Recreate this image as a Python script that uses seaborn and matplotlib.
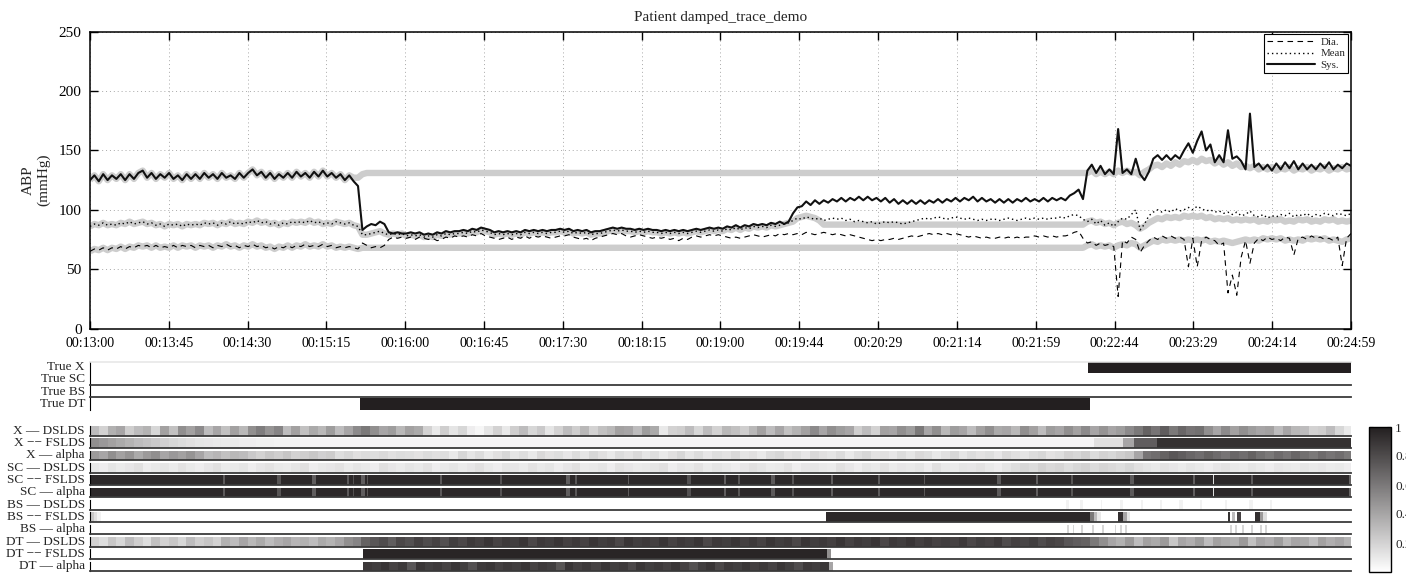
import numpy as np
import matplotlib
matplotlib.use("Agg")
import matplotlib.pyplot as plt
from matplotlib.colors import LinearSegmentedColormap
from matplotlib.lines import Line2D
import seaborn as sns

# ------------------------------------------------------------------
# Time base: seconds after 00:13:00
# ------------------------------------------------------------------
T_END = 719
tick_labels = ["00:13:00", "00:13:45", "00:14:30", "00:15:15", "00:16:00",
               "00:16:45", "00:17:30", "00:18:15", "00:19:00", "00:19:44",
               "00:20:29", "00:21:14", "00:21:59", "00:22:44", "00:23:29",
               "00:24:14", "00:24:59"]
ytick_values = [0, 50, 100, 150, 200, 250]

# ------------------------------------------------------------------
# Observed ABP (mmHg), one sample every ~2.5 s
# ------------------------------------------------------------------
sys_abp = [
    125, 129, 124, 130, 125, 129, 126, 130, 125, 130, 126, 131,
    133, 127, 131, 126, 130, 127, 131, 126, 129, 125, 130, 126,
    130, 126, 131, 127, 130, 126, 131, 127, 129, 126, 131, 127,
    131, 134, 129, 132, 127, 131, 126, 130, 127, 131, 127, 132,
    128, 131, 127, 132, 128, 133, 128, 131, 127, 130,
    125, 129, 124, 120, 83, 86, 88, 87, 90, 88, 81, 80, 81, 80,
    80, 81, 80, 81, 79, 80, 79, 81, 80, 82, 81, 82,
    82, 83, 82, 84, 83, 85, 84, 83, 81, 82, 81, 82,
    81, 82, 81, 83, 82, 83, 82, 83, 82, 83, 83, 84,
    83, 84, 82, 83, 82, 83, 81, 82, 82, 83, 84, 85,
    84, 85, 84, 84, 83, 84, 83, 84, 83, 83, 82, 83,
    82, 83, 82, 83, 82, 83, 84, 83, 84, 85, 84, 85,
    84, 86, 85, 87, 85, 87, 86, 88, 87, 88, 87, 89, 88, 90,
    88, 90, 97, 102, 103, 107, 104, 108, 105, 108, 106, 109,
    107, 110, 107, 110, 108, 111, 108, 111, 108, 110, 107, 110,
    106, 109, 105, 108, 105, 108, 105, 108, 105, 108, 106, 109,
    106, 109, 107, 110, 107, 110, 108, 111, 107, 110, 107, 109,
    106, 109, 106, 109, 106, 109, 107, 110, 107, 109, 107, 110,
    107, 110, 108, 110, 108, 112, 114, 117, 109,
    133, 138, 131, 137, 130, 134, 130, 168, 131, 134, 130, 143,
    130, 125, 132, 143, 146, 142, 146, 142, 146, 143, 150, 156,
    148, 158, 166, 150, 155, 140, 146, 140, 167, 143, 145, 141,
    134, 181, 136, 139, 134, 138, 133, 139, 134, 140, 135, 141,
    134, 139, 134, 138, 134, 139, 135, 140, 134, 138, 135, 139, 137,
]

dia_abp = [
    65, 67, 66, 68, 66, 68, 67, 69, 67, 69, 68, 70,
    69, 70, 68, 70, 68, 69, 68, 70, 68, 70, 69, 70,
    68, 70, 69, 70, 68, 70, 69, 71, 69, 70, 68, 70,
    69, 71, 69, 70, 68, 69, 67, 69, 68, 70, 68, 70,
    69, 71, 69, 70, 69, 71, 69, 70, 68, 69,
    68, 69, 68, 67, 72, 70, 68, 69, 68, 70, 75, 77, 76, 77,
    76, 77, 75, 77, 76, 75, 76, 74, 75, 77, 76, 78,
    77, 78, 77, 79, 78, 80, 78, 77, 76, 75, 76, 77,
    75, 77, 76, 78, 76, 78, 77, 78, 77, 76, 77, 78,
    78, 79, 77, 76, 75, 76, 74, 76, 77, 78, 79, 80,
    79, 80, 78, 77, 78, 79, 78, 77, 76, 77, 76, 77,
    75, 76, 74, 76, 75, 77, 78, 77, 78, 79, 78, 79,
    78, 77, 76, 77, 76, 77, 78, 79, 78, 77, 78, 79, 78, 80,
    79, 80, 79, 80, 79, 81, 80, 79, 80, 81, 80, 79,
    80, 79, 78, 79, 78, 77, 76, 75, 74, 75, 74, 75,
    75, 76, 75, 76, 77, 78, 77, 78, 79, 80, 79, 80,
    79, 80, 79, 80, 79, 78, 77, 78, 77, 76, 77, 76,
    76, 77, 76, 77, 76, 77, 76, 77, 77, 78, 77, 78,
    77, 78, 77, 78, 78, 79, 81, 82, 76,
    72, 73, 70, 72, 70, 71, 69, 27, 74, 72, 77, 75,
    64, 70, 74, 77, 75, 78, 76, 78, 76, 77, 75, 52,
    76, 52, 74, 77, 75, 74, 70, 72, 30, 45, 28, 60,
    74, 55, 72, 76, 74, 77, 75, 76, 74, 77, 76, 62,
    76, 77, 75, 78, 76, 77, 75, 76, 74, 77, 53, 76, 80,
]

mean_abp = [
    86, 88, 87, 89, 87, 88, 87, 89, 88, 90, 88, 89,
    90, 88, 89, 87, 88, 86, 88, 87, 88, 86, 88, 87,
    88, 87, 89, 88, 89, 87, 89, 88, 90, 88, 89, 88,
    90, 89, 91, 89, 90, 88, 89, 87, 89, 88, 90, 89,
    90, 89, 91, 89, 90, 88, 89, 88, 90, 89,
    88, 89, 87, 86, 79, 79, 80, 81, 82, 80, 79, 80, 79, 80,
    78, 79, 78, 79, 77, 78, 77, 79, 78, 80, 79, 80,
    80, 81, 80, 82, 81, 83, 82, 81, 79, 80, 79, 80,
    79, 80, 79, 81, 80, 81, 80, 81, 80, 81, 81, 82,
    81, 82, 80, 81, 80, 81, 79, 80, 80, 81, 82, 83,
    82, 83, 82, 82, 81, 82, 81, 82, 81, 81, 80, 81,
    80, 81, 80, 81, 80, 81, 82, 81, 82, 83, 82, 83,
    82, 84, 83, 85, 83, 85, 84, 86, 85, 86, 85, 87, 86, 87,
    88, 89, 91, 93, 92, 94, 93, 92, 93, 91, 92, 93,
    92, 93, 91, 92, 90, 91, 90, 89, 90, 88, 89, 90,
    89, 90, 89, 88, 89, 90, 91, 92, 93, 92, 93, 94,
    93, 92, 93, 94, 93, 92, 93, 92, 91, 92, 91, 92,
    92, 91, 92, 93, 92, 91, 92, 93, 92, 93, 92, 93,
    92, 93, 93, 94, 93, 95, 96, 95, 92,
    90, 92, 88, 91, 87, 89, 86, 90, 93, 92, 96, 100,
    83, 88, 95, 98, 100, 98, 100, 98, 101, 99, 100, 102,
    100, 103, 101, 99, 100, 98, 99, 97, 98, 96, 98, 95,
    96, 99, 95, 94, 96, 93, 95, 94, 96, 95, 97, 94,
    96, 95, 97, 94, 96, 95, 97, 96, 95, 97, 96, 95, 97,
]

# ------------------------------------------------------------------
# Model estimates (thick grey): track the data outside the artifact,
# hold a level during it, then track again.
# ------------------------------------------------------------------
est_sys_level = 131
est_mean_level = 87.5
est_dia_level = 68
est_sys_post = [
    131, 133, 130, 132, 130, 132, 130, 133, 131, 133, 131, 132,
    129, 132, 134, 137, 138, 136, 139, 137, 140, 138, 141, 140,
    142, 140, 143, 141, 142, 139, 141, 138, 140, 137, 139, 136,
    137, 135, 137, 134, 136, 134, 136, 133, 135, 134, 136, 133,
    135, 134, 136, 133, 135, 134, 136, 133, 135, 134, 136, 134, 135,
]
est_mean_rise = [90, 93, 94, 95, 94, 93, 91]
est_mean_post = [
    90, 91, 89, 90, 88, 89, 87, 89, 90, 88, 89, 87,
    84, 86, 89, 91, 93, 92, 94, 93, 94, 93, 95, 94,
    95, 94, 95, 93, 94, 92, 93, 92, 93, 91, 92, 91,
    92, 91, 92, 90, 91, 90, 92, 91, 92, 90, 91, 90,
    92, 91, 92, 90, 91, 90, 92, 91, 92, 90, 91, 90, 91,
]
est_dia_post = [
    70, 71, 69, 70, 69, 70, 68, 70, 71, 70, 72, 71,
    68, 70, 72, 74, 73, 75, 74, 75, 74, 75, 74, 75,
    74, 75, 74, 75, 73, 74, 73, 74, 73, 72, 73, 74,
    75, 74, 75, 74, 76, 75, 76, 75, 76, 74, 75, 74,
    75, 74, 76, 75, 76, 75, 76, 74, 75, 74, 73, 75, 76,
]

est_sys = sys_abp[:60] + [127, 127, 130] + [est_sys_level] * 164 + est_sys_post
est_mean = mean_abp[:160] + est_mean_rise + [est_mean_level] * 60 + est_mean_post
est_dia = dia_abp[:62] + [est_dia_level] * 165 + est_dia_post

# ------------------------------------------------------------------
# Factor indicators and posterior probabilities (percent)
# runs: (t_start, t_end, value or list of values spread over the run)
# ------------------------------------------------------------------
true_labels = ["True X", "True SC", "True BS", "True DT"]
true_runs = [
    [(569, 720, 100)],
    [],
    [],
    [(154, 570.7, 100)],
]

row_labels = ["X \u2014 DSLDS", "X \u2212\u2212 FSLDS", "X \u2014 alpha",
              "SC \u2014 DSLDS", "SC \u2212\u2212 FSLDS", "SC \u2014 alpha",
              "BS \u2014 DSLDS", "BS \u2212\u2212 FSLDS", "BS \u2014 alpha",
              "DT \u2014 DSLDS", "DT \u2212\u2212 FSLDS", "DT \u2014 alpha"]

x_dslds = [30, 20, 35, 40, 22, 30, 34, 18, 42, 28, 50, 42, 52, 30, 40, 28, 42, 32,
           50, 58, 48, 55, 30, 42, 28, 38, 32, 44, 30, 40, 52, 60, 50, 40, 44, 32,
           42, 38, 20, 10, 22, 12, 18, 8, 4, 12, 20, 10, 22, 30, 18, 24, 12, 20,
           30, 22, 32, 20, 28, 32, 42, 40, 30, 44, 38, 10, 20, 22, 30, 18, 30, 20,
           32, 28, 22, 32, 42, 30, 40, 28, 34, 42, 52, 40, 50, 44, 40, 22, 30, 20,
           42, 40, 50, 44, 60, 40, 50, 32, 44, 40, 30, 42, 50, 38, 40, 32, 50, 42,
           30, 44, 40, 50, 42, 52, 40, 48, 40, 44, 52, 60, 70, 62, 72, 60, 68, 62,
           64, 50, 40, 52, 42, 50, 44, 40, 42, 30, 40, 32, 30, 20, 22, 30, 18, 10]
x_fslds_fade = [50, 46, 42, 38, 34, 30, 27, 24, 21, 18, 16, 14, 12, 11, 10, 9, 9, 8,
                8, 7, 7, 6, 6, 6, 5, 5, 5, 5]
x_alpha = [45, 40, 50, 42, 48, 38, 45, 50, 40, 46, 42, 48, 40, 30, 33, 28, 32, 30,
           24, 20, 25, 22, 26, 20, 22, 25, 21, 23, 15, 18, 14, 16, 15, 17, 14, 16,
           15, 13, 16, 14, 15, 10, 18, 12, 16, 10, 14, 18, 12, 15, 10, 17, 13, 15,
           11, 16, 12, 18, 14, 10, 16, 13, 17, 12, 15, 10, 14, 18, 12, 16, 11, 15,
           13, 17, 12, 14, 10, 16, 18, 13, 15, 11, 17, 14, 12, 16, 10, 15, 18, 13,
           14, 11, 16, 12, 17, 15, 10, 14, 18, 12, 16, 13, 15, 11, 17, 14, 12, 16,
           18, 13, 15, 20, 18, 22, 16, 20, 18, 22, 25, 40, 62, 65, 70, 75, 72, 68,
           65, 70, 66, 62, 68, 65, 70, 64, 60, 66, 62, 68, 64, 60, 66, 62, 65, 60]
sc_dslds = [10, 8, 12, 9, 11, 14, 8, 10, 12, 9, 13, 10, 8, 11, 14, 9, 10, 12,
            8, 11, 13, 10, 9, 12, 14, 8, 10, 11, 13, 9, 12, 10, 8, 14, 11, 9,
            12, 10, 13, 8, 10, 12, 9, 11, 14, 10, 8, 12, 11, 9, 13, 10, 12, 8,
            11, 14, 9, 10, 12, 8, 13, 11, 9, 10, 12, 14, 8, 11, 10, 13, 9, 12,
            10, 8, 11, 14, 12, 9, 10, 13, 8, 11, 12, 10, 9, 14, 11, 8, 12, 10,
            13, 9, 11, 10, 12, 8, 14, 10, 9, 12, 11, 13, 10, 8, 12, 15, 18, 16,
            20, 17, 19, 15, 18, 20, 16, 19, 17, 15, 18, 14, 12, 10, 13, 11, 9, 12,
            10, 8, 11, 13, 10, 9, 12, 10, 8, 11, 10, 9, 12, 10, 11, 9, 10, 8]
sc_level = 96
sc_gap_times = [75.6, 107.2, 127.2, 146.5, 150, 155.1, 158, 199.6, 233.8, 272,
                276.5, 306.7, 341, 361, 369, 388.9, 400.4, 422, 448.9, 475.1,
                517.7, 539.4, 559.4, 593.6, 629, 640.4, 662, 717.9]
sc_gap_levels = [74, 76, 72, 74, 78, 72, 76, 74, 77, 72, 75, 74, 78, 72, 76, 74,
                 77, 72, 74, 76, 74, 72, 76, 74, 72, 15, 74, 70]
bs_dslds_times = [556.5, 564.5, 575.9, 587.3, 598.7, 610, 621.5, 632.9, 647, 661.4, 672.8]
bs_alpha_times = [557, 560, 565, 571, 577, 584, 587, 590, 650, 653, 657, 662, 667, 670]
dt_dslds = [20, 15, 25, 18, 30, 22, 15, 28, 20, 25, 18, 30, 22, 26, 20, 35, 30, 40,
            32, 38, 30, 36, 40, 33, 35, 30, 38, 34, 40, 50, 55, 70, 75, 80, 72, 82,
            78, 85, 80, 84, 78, 86, 82, 88, 85, 90, 84, 88, 86, 90, 82, 88, 86, 90,
            85, 88, 84, 90, 86, 88, 82, 90, 86, 88, 85, 90, 84, 88, 86, 90, 82, 88,
            86, 90, 85, 88, 84, 90, 86, 88, 82, 90, 86, 88, 85, 90, 84, 88, 86, 90,
            82, 88, 86, 90, 85, 88, 84, 86, 84, 88, 82, 86, 84, 88, 80, 85, 83, 86,
            80, 84, 82, 75, 72, 70, 60, 50, 40, 35, 45, 30, 42, 38, 45, 25, 40, 36,
            44, 30, 42, 38, 35, 45, 28, 40, 36, 44, 32, 40, 38, 30, 42, 36, 40, 34]
dt_alpha = [88, 86, 90, 84, 88, 75, 90, 86, 88, 84, 90, 86, 78, 88, 90, 85, 88, 86,
            90, 84, 88, 86, 76, 90, 85, 88, 84, 90, 86, 88, 82, 90, 86, 88, 85, 90,
            84, 78, 86, 90, 82, 88, 86, 90, 85, 88, 84, 90, 86, 80, 88, 86, 90]

row_runs = [
    [(0, 720, x_dslds)],
    [(0, 140, x_fslds_fade), (140, 572, 5), (572, 589, 14), (589, 595, 40),
     (595, 608, 72), (608, 720, 92)],
    [(0, 720, x_alpha)],
    [(0, 720, sc_dslds)],
    [(0, 720, sc_level)] + [(t, t + 1.2, v) for t, v in zip(sc_gap_times, sc_gap_levels)],
    [(0, 720, sc_level)] + [(t, t + 1.2, v) for t, v in zip(sc_gap_times, sc_gap_levels)],
    [(t, t + 1.5, 6) for t in bs_dslds_times],
    [(0, 2, 25), (2, 4, 14), (4, 6, 6), (419, 570.7, 96), (570.7, 572.5, 60),
     (572.5, 574.5, 30), (574.5, 576, 10), (586.5, 589.4, 93), (589.4, 591.5, 40),
     (591.5, 593, 12), (648.7, 650.4, 92), (651.2, 653.2, 30), (654, 656, 85),
     (664.2, 667.3, 93), (667.3, 669.5, 45), (669.5, 671, 15)],
    [(t, t + 1.5, 18) for t in bs_alpha_times],
    [(0, 720, dt_dslds)],
    [(156.2, 420, 97), (420, 422, 50)],
    [(156.2, 421, dt_alpha), (421, 423, 40)],
]

N_COL = 720
col_t = (np.arange(N_COL) + 0.5) * T_END / N_COL


def build_row(runs):
    row = np.zeros(N_COL)
    for t0, t1, vals in runs:
        sel = (col_t >= t0) & (col_t < t1)
        vals = np.atleast_1d(np.asarray(vals, dtype=float))
        pos = ((col_t[sel] - t0) / (t1 - t0) * len(vals)).astype(int)
        row[sel] = vals[np.clip(pos, 0, len(vals) - 1)]
    return row / 100.0


# ------------------------------------------------------------------
# Figure
# ------------------------------------------------------------------
sns.set_style("ticks")
plt.rcParams["font.family"] = ["Liberation Serif", "DejaVu Serif"]
plt.rcParams["axes.linewidth"] = 1.1

W, H = 1406, 574
fig = plt.figure(figsize=(W / 100, H / 100), dpi=100)


def px_axes(top, bottom, left=90, right=1351):
    return fig.add_axes([left / W, 1 - bottom / H, (right - left) / W, (bottom - top) / H])


# ---- ABP panel ----
ax = px_axes(31.7, 328.5)
grey = "#cdcdcd"
for est in (est_sys, est_mean, est_dia):
    t = np.linspace(0, T_END, len(est))
    sns.lineplot(x=t, y=est, ax=ax, color=grey, lw=4.6, sort=False,
                 errorbar=None, solid_capstyle="butt", zorder=2)

t = np.linspace(0, T_END, len(dia_abp))
sns.lineplot(x=t, y=dia_abp, ax=ax, color="k", lw=0.8, linestyle=(0, (5, 4)),
             sort=False, errorbar=None, zorder=3)
t = np.linspace(0, T_END, len(mean_abp))
sns.lineplot(x=t, y=mean_abp, ax=ax, color="k", lw=1.0, linestyle=(0, (1, 2.2)),
             sort=False, errorbar=None, zorder=3)
t = np.linspace(0, T_END, len(sys_abp))
sns.lineplot(x=t, y=sys_abp, ax=ax, color="#111111", lw=1.5, sort=False,
             errorbar=None, zorder=4)

ax.set_xlim(0, T_END)
ax.set_ylim(0, 250)
ax.set_xticks(np.linspace(0, T_END, len(tick_labels)))
ax.set_xticklabels(tick_labels, fontsize=10)
ax.set_yticks(ytick_values)
ax.set_yticklabels([str(v) for v in ytick_values], fontsize=11)
ax.tick_params(direction="in", length=6, width=1.0, top=True, right=True,
               pad=6, colors="k")
ax.grid(True, linestyle=(0, (1, 3)), color="#a8a8a8", lw=0.7)
ax.set_axisbelow(True)
for s in ax.spines.values():
    s.set_visible(True)
    s.set_color("k")
    s.set_linewidth(1.1)
ax.set_xlabel("")
ax.set_ylabel("ABP\n(mmHg)", fontsize=11, labelpad=6, multialignment="center")
ax.set_title("Patient damped_trace_demo", fontsize=11, pad=8)

handles = [Line2D([], [], color="k", lw=0.8, linestyle=(0, (5, 4))),
           Line2D([], [], color="k", lw=1.0, linestyle=(0, (1, 2.2))),
           Line2D([], [], color="#111111", lw=1.5)]
leg = ax.legend(handles, ["Dia.", "Mean", "Sys."], loc="upper right", fontsize=7.8,
                frameon=True, fancybox=False, edgecolor="k", framealpha=1,
                borderaxespad=0.25, handlelength=4.4, handletextpad=0.5,
                labelspacing=0.15, borderpad=0.3)
leg.get_frame().set_linewidth(0.8)

# ---- probability strips ----
cmap = LinearSegmentedColormap.from_list("prob", ["#ffffff", "#231f20"])


def draw_strip(axs, runs, label, bottom_line, top_line=False):
    data = build_row(runs)[None, :]
    sns.heatmap(data, ax=axs, cmap=cmap, vmin=0, vmax=1, cbar=False,
                xticklabels=False, yticklabels=False)
    axs.set_xlim(0, N_COL)
    axs.set_xticks([])
    axs.set_yticks([])
    axs.spines["left"].set_visible(True)
    axs.spines["left"].set_color("k")
    axs.spines["left"].set_linewidth(0.8)
    axs.spines["bottom"].set_visible(bottom_line)
    axs.spines["bottom"].set_color("#3a3a3a")
    axs.spines["bottom"].set_linewidth(1.3)
    axs.spines["top"].set_visible(top_line)
    axs.spines["top"].set_color("#e6e6e6")
    axs.spines["right"].set_visible(False)
    axs.text(-0.004, 0.5, label, transform=axs.transAxes, ha="right",
             va="center", fontsize=9.5)


for k, (lab, runs) in enumerate(zip(true_labels, true_runs)):
    top = 361.5 + 12.3 * k
    axs = px_axes(top, top + 11.3)
    draw_strip(axs, runs, lab, bottom_line=(len(runs) == 0), top_line=(k == 0))

mappable = None
for k, (lab, runs) in enumerate(zip(row_labels, row_runs)):
    bottom = 435.7 + 12.33 * k
    axs = px_axes(bottom - 9.8, bottom)
    draw_strip(axs, runs, lab, bottom_line=True)
    mappable = axs.collections[0]

# ---- colour bar (labels run to the right edge of the canvas) ----
cax = px_axes(427, 572, left=1369, right=1391)
cb = fig.colorbar(mappable, cax=cax, ticks=[0.2, 0.4, 0.6, 0.8, 1.0])
cb.set_ticklabels(["0.2", "0.4", "0.6", "0.8", "1"])
cb.ax.tick_params(direction="in", length=3, width=0.8, left=True, right=True,
                  labelsize=9.5, pad=3)
cb.outline.set_linewidth(1.0)
cb.outline.set_edgecolor("k")

fig.savefig("out.png", dpi=100)
